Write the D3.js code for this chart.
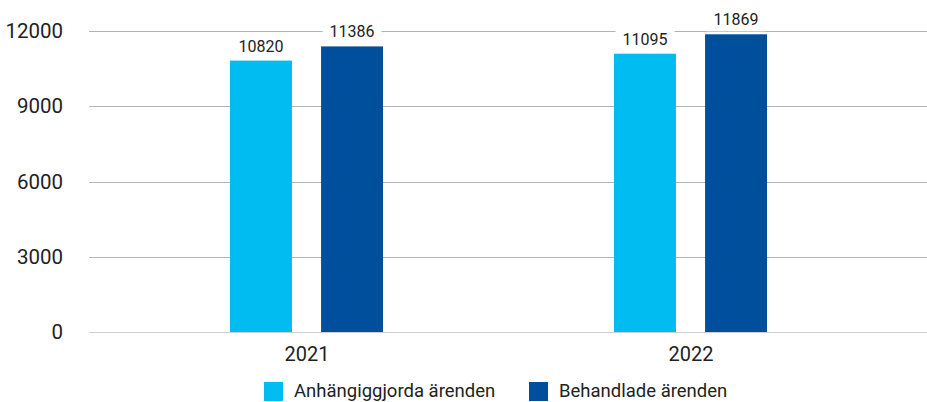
<!DOCTYPE html>
<html>
<head>
<meta charset="utf-8">
<script src="https://cdn.jsdelivr.net/npm/d3@7"></script>
<style>
  body { margin: 0; background: #fff; }
  text { font-family: Roboto, "Noto Sans", sans-serif; fill: #222; }
</style>
</head>
<body>
<script>
// data
var years = ["2021", "2022"];
var seriesNames = ["Anhängiggjorda ärenden", "Behandlade ärenden"];
var anhangiggjorda = [10820, 11095];
var behandlade = [11386, 11869];
var yTicks = [0, 3000, 6000, 9000, 12000];
var colors = ["#00bcf0", "#004f9d"];

var width = 927, height = 402;
var svg = d3.select("body").append("svg")
  .attr("width", width)
  .attr("height", height);

var y = d3.scaleLinear().domain([0, 12000]).range([332, 31]);
var x = d3.scaleBand().domain(years).range([115, 883]);
var xs = d3.scaleBand().domain(seriesNames).range([-77, 76]).paddingInner(0.32);

// gridlines + y labels
var grid = svg.append("g");
yTicks.forEach(function (t) {
  grid.append("line")
    .attr("x1", 89).attr("x2", 927)
    .attr("y1", Math.round(y(t)) + 0.5).attr("y2", Math.round(y(t)) + 0.5)
    .style("stroke", t === 0 ? "#cfcfcf" : "#b4b4b4")
    .style("stroke-width", 1);
  grid.append("text")
    .attr("x", 63).attr("y", y(t) + 7)
    .attr("text-anchor", "end")
    .style("font-size", "20.5px")
    .text(t);
});

// bars
var all = [anhangiggjorda, behandlade];
years.forEach(function (yr, i) {
  var cx = x(yr) + x.bandwidth() / 2;
  seriesNames.forEach(function (s, j) {
    var v = all[j][i];
    var bx = cx + xs(s);
    svg.append("rect")
      .attr("x", bx).attr("y", y(v))
      .attr("width", xs.bandwidth()).attr("height", y(0) - y(v))
      .attr("fill", colors[j]);
    var lbl = svg.append("text")
      .attr("x", bx + xs.bandwidth() / 2).attr("y", y(v) - 9)
      .attr("text-anchor", "middle")
      .style("font-size", "16px")
      .text(v);
    var bb = lbl.node().getBBox();
    svg.insert("rect", function () { return lbl.node(); })
      .attr("x", bb.x - 7).attr("y", bb.y - 2)
      .attr("width", bb.width + 14).attr("height", bb.height + 4)
      .attr("fill", "#fff");
  });
  svg.append("text")
    .attr("x", cx).attr("y", 361)
    .attr("text-anchor", "middle")
    .style("font-size", "20px")
    .text(yr);
});

// legend
var legendX = [264, 529];
seriesNames.forEach(function (s, j) {
  svg.append("rect")
    .attr("x", legendX[j]).attr("y", 382)
    .attr("width", 19).attr("height", 19)
    .attr("fill", colors[j]);
  svg.append("text")
    .attr("x", legendX[j] + 30).attr("y", 397)
    .style("font-size", "18.5px")
    .text(s);
});
</script>
</body>
</html>
